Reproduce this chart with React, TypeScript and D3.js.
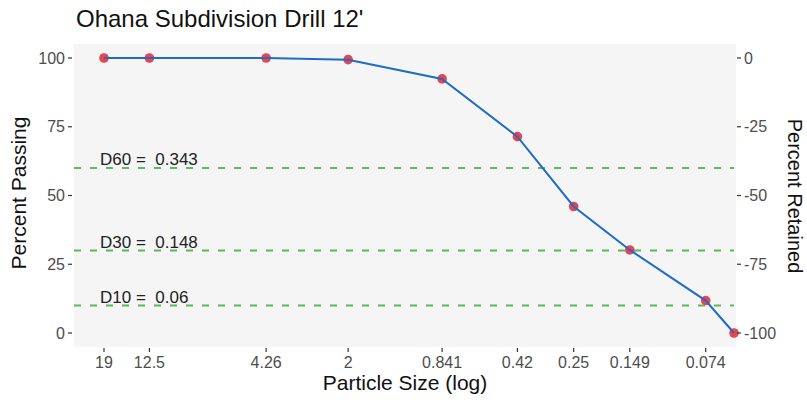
import React from "react";
import * as d3 from "d3";

const sizes = [19, 12.5, 4.26, 2, 0.841, 0.42, 0.25, 0.149, 0.074, 0.057];
const passing = [100, 100, 100, 99.4, 92.4, 71.4, 46, 30.2, 11.8, 0];
const tickSizes = [19, 12.5, 4.26, 2, 0.841, 0.42, 0.25, 0.149, 0.074];
const leftTicks = [0, 25, 50, 75, 100];
const rightTicks = [0, -25, -50, -75, -100];
const dNames = ["D60", "D30", "D10"];
const dPercents = [60, 30, 10];
const dValues = ["0.343", "0.148", "0.06"];

const W = 807;
const H = 402;
const panel = { left: 74, right: 736, top: 44, bottom: 347 };

export default function App() {
  const x = d3.scaleLog().domain([19, 0.057]).range([104, 734]);
  const y = d3.scaleLinear().domain([0, 100]).range([333, 58]);
  const yRight = d3.scaleLinear().domain([-100, 0]).range([333, 58]);

  const pts = sizes.map((s, i) => [x(s), y(passing[i])] as [number, number]);
  const line = d3.line()(pts) || "";

  const font = "Liberation Sans, Arial, sans-serif";

  return (
    <div style={{ position: "absolute", left: 0, top: 0 }}>
      <svg width={W} height={H} style={{ display: "block", fontFamily: font }}>
        <rect width={W} height={H} fill="#ffffff" />
        <rect
          x={panel.left}
          y={panel.top}
          width={panel.right - panel.left}
          height={panel.bottom - panel.top}
          fill="#f5f5f5"
        />
        <text x={76} y={27} fontSize={24} fill="#111">
          Ohana Subdivision Drill 12'
        </text>

        {/* D lines */}
        {dPercents.map((p, i) => (
          <g key={dNames[i]}>
            <line
              x1={panel.left}
              x2={panel.right - 2}
              y1={y(p)}
              y2={y(p)}
              stroke="#5cb85c"
              strokeWidth={2}
              strokeDasharray="7,9"
            />
            <text x={100} y={y(p) - 3} fontSize={17} fill="#222" style={{ whiteSpace: "pre" }}>
              {`${dNames[i]} =  ${dValues[i]}`}
            </text>
          </g>
        ))}

        {/* points and line */}
        {pts.map((p, i) => (
          <circle key={i} cx={p[0]} cy={p[1]} r={4.8} fill="#e8464f" />
        ))}
        <path d={line} fill="none" stroke="#1f6cc4" strokeWidth={2} />

        {/* left axis */}
        {leftTicks.map((t) => (
          <g key={t}>
            <line x1={68} x2={72} y1={y(t)} y2={y(t)} stroke="#333" strokeWidth={1.2} />
            <text x={65} y={y(t)} dy="0.35em" textAnchor="end" fontSize={16} fill="#4d4d4d">
              {t}
            </text>
          </g>
        ))}

        {/* right axis */}
        {rightTicks.map((t) => (
          <g key={t}>
            <line x1={737} x2={741} y1={yRight(t)} y2={yRight(t)} stroke="#333" strokeWidth={1.2} />
            <text x={744} y={yRight(t)} dy="0.35em" textAnchor="start" fontSize={16} fill="#4d4d4d">
              {t === 0 ? "0" : `-${Math.abs(t)}`}
            </text>
          </g>
        ))}

        {/* x axis */}
        {tickSizes.map((s) => (
          <g key={s}>
            <line x1={x(s)} x2={x(s)} y1={348} y2={352} stroke="#333" strokeWidth={1.2} />
            <text x={x(s)} y={368} textAnchor="middle" fontSize={16} fill="#4d4d4d">
              {String(s)}
            </text>
          </g>
        ))}

        <text x={405} y={390} textAnchor="middle" fontSize={21} fill="#111">
          Particle Size (log)
        </text>
        <text
          transform={`translate(26, 193) rotate(-90)`}
          textAnchor="middle"
          fontSize={21}
          fill="#111"
        >
          Percent Passing
        </text>
        <text
          transform={`translate(788, 196) rotate(90)`}
          textAnchor="middle"
          fontSize={20}
          fill="#111"
        >
          Percent Retained
        </text>
      </svg>
    </div>
  );
}
